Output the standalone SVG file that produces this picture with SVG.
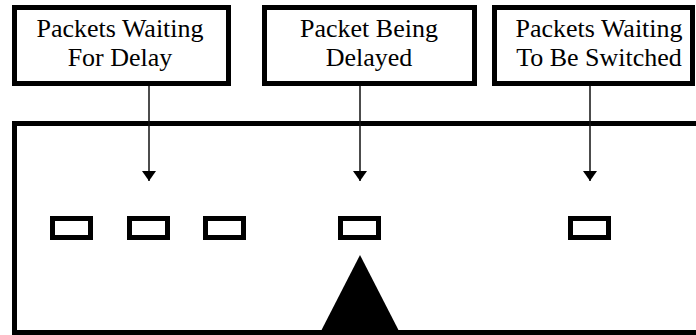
<svg xmlns="http://www.w3.org/2000/svg" width="696" height="335" viewBox="0 0 696 335">
  <style>
    .label { fill: none; stroke: #000; stroke-width: 5; }
    .txt { font-family: "Liberation Serif", "Times New Roman", serif; font-size: 26px; fill: #000; text-anchor: middle; }
    .frame { fill: none; stroke: #000; stroke-width: 5; }
    .pkt { fill: #fff; stroke: #000; stroke-width: 5; }
    .conn { stroke: #111; stroke-width: 1.5; fill: none; }
  </style>
  <defs>
    <!-- solid triangular head, drawn pointing along the line direction -->
    <marker id="head" viewBox="0 0 10 14" refX="10" refY="7" markerWidth="10" markerHeight="14" markerUnits="userSpaceOnUse" orient="auto">
      <path d="M0 0 L10 7 L0 14 Z" fill="#000"/>
    </marker>
  </defs>

  <rect width="696" height="335" fill="#fff"/>

  <!-- switch body: frame open on the right -->
  <g id="switch">
    <rect class="frame" x="14.5" y="123.5" width="720" height="209"/>
    <!-- delay element -->
    <polygon points="360,255 320,333 400,333" fill="#000"/>
  </g>

  <!-- packets -->
  <g id="packet-wait-1"><rect class="pkt" x="52.5" y="218.5" width="38" height="19"/></g>
  <g id="packet-wait-2"><rect class="pkt" x="129.5" y="218.5" width="38" height="19"/></g>
  <g id="packet-wait-3"><rect class="pkt" x="205.5" y="218.5" width="38" height="19"/></g>
  <g id="packet-delayed"><rect class="pkt" x="340.5" y="218.5" width="38" height="19"/></g>
  <g id="packet-switch"><rect class="pkt" x="570.5" y="218.5" width="38" height="19"/></g>

  <!-- labels -->
  <g id="label-waiting">
    <rect class="label" x="14.5" y="7.5" width="214" height="76"/>
    <text class="txt" x="120" y="37">Packets Waiting</text>
    <text class="txt" x="120" y="66">For Delay</text>
  </g>
  <g id="label-delayed">
    <rect class="label" x="264.5" y="7.5" width="210" height="76"/>
    <text class="txt" x="369" y="37">Packet Being</text>
    <text class="txt" x="369" y="66">Delayed</text>
  </g>
  <g id="label-switched">
    <rect class="label" x="494.5" y="7.5" width="198" height="76"/>
    <text class="txt" x="599" y="37">Packets Waiting</text>
    <text class="txt" x="599" y="66">To Be Switched</text>
  </g>

  <!-- connectors -->
  <g id="connectors">
    <line class="conn" x1="149" y1="86" x2="149" y2="181" marker-end="url(#head)"/>
    <line class="conn" x1="360" y1="86" x2="360" y2="181" marker-end="url(#head)"/>
    <line class="conn" x1="590" y1="86" x2="590" y2="181" marker-end="url(#head)"/>
  </g>
</svg>
